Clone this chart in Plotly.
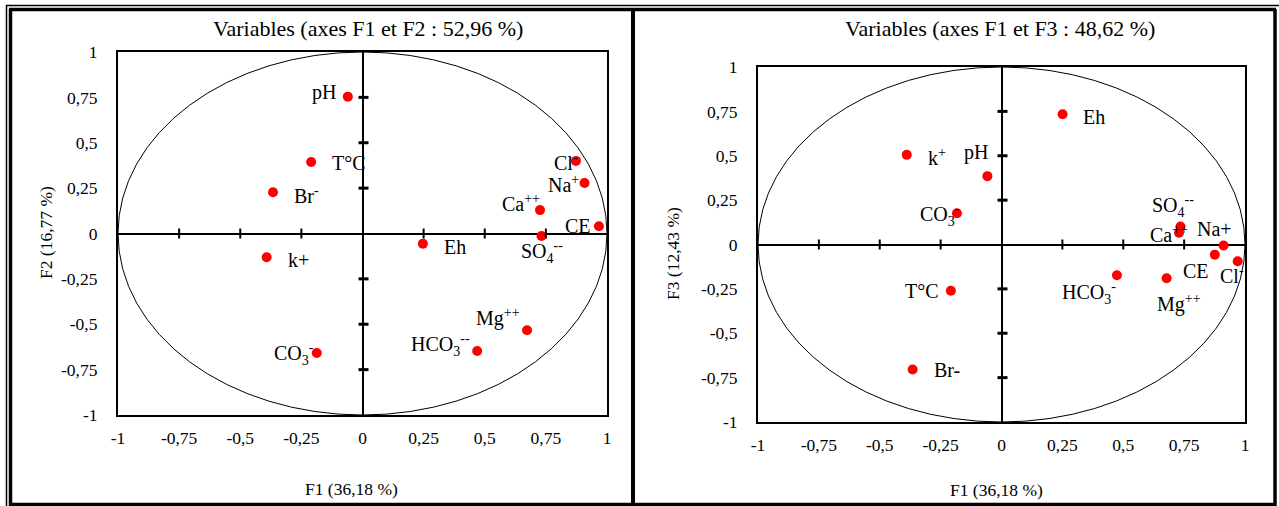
import plotly.graph_objects as go

# ---------------- data ----------------
labels_f12 = ["pH", "T°C", "Br<sup>-</sup>", "Cl<sup>-</sup>", "Na<sup>+</sup>", "Ca<sup>++</sup>", "CE",
              "SO<sub>4</sub><sup>--</sup>", "Eh", "k+", "CO<sub>3</sub><sup>-</sup>",
              "HCO<sub>3</sub><sup>--</sup>", "Mg<sup>++</sup>"]
f1_left = [-0.06, -0.21, -0.366, 0.873, 0.908, 0.726, 0.967, 0.732, 0.247, -0.392, -0.187, 0.469, 0.673]
f2_vals = [0.754, 0.394, 0.227, 0.40, 0.278, 0.129, 0.04, -0.014, -0.056, -0.131, -0.658, -0.647, -0.533]

labels_f13 = ["Eh", "k<sup>+</sup>", "pH", "CO<sub>3</sub><sup>-</sup>", "SO<sub>4</sub><sup>--</sup>",
              "Ca<sup>++</sup>", "Na+", "CE", "Cl<sup>-</sup>", "HCO<sub>3</sub><sup>-</sup>",
              "Mg<sup>++</sup>", "T°C", "Br-"]
f1_right = [0.251, -0.389, -0.058, -0.183, 0.735, 0.729, 0.912, 0.876, 0.970, 0.474, 0.678, -0.208, -0.365]
f3_vals = [0.734, 0.505, 0.385, 0.176, 0.101, 0.066, -0.006, -0.058, -0.094, -0.173, -0.19, -0.261, -0.704]

tick_vals = [-1, -0.75, -0.5, -0.25, 0, 0.25, 0.5, 0.75, 1]
tick_text = ["-1", "-0,75", "-0,5", "-0,25", "0", "0,25", "0,5", "0,75", "1"]

title_left = "Variables (axes F1 et F2 : 52,96 %)"
title_right = "Variables (axes F1 et F3 : 48,62 %)"
xtitle = "F1 (36,18 %)"
ytitle_left = "F2 (16,77 %)"
ytitle_right = "F3 (12,43 %)"

# label placement (style): (xanchor, xshift, yshift)
place_left = [("right", -10, 4), ("left", 19, -1), ("left", 19, -3), ("right", 4, -1),
              ("right", -4, -1), ("right", 2, 7), ("right", -6, 0), ("center", 1, -16),
              ("left", 19, -3), ("left", 19, -3), ("right", -1, -1), ("right", -5, 6),
              ("right", -5, 13)]
place_right = [("left", 18, -3), ("left", 19, -2), ("right", 3, 24), ("right", 5, -2),
               ("center", -7, 21), ("right", 11, -1), ("center", -9, 17), ("right", -4, -16),
               ("center", -6, -14), ("right", 1, -18), ("center", 12, -25), ("right", -10, 0),
               ("left", 19, -1)]

# ---------------- layout helpers ----------------
W, H = 1279, 506
FONT = "Liberation Serif, Times New Roman, serif"


def px(x):
    return x / W


def py(y):
    return 1 - y / H


fig = go.Figure()

fig.add_trace(go.Scatter(x=f1_left, y=f2_vals, mode="markers", xaxis="x", yaxis="y",
                         marker=dict(color="#FF0000", size=10), cliponaxis=False,
                         showlegend=False, hoverinfo="skip"))
fig.add_trace(go.Scatter(x=f1_right, y=f3_vals, mode="markers", xaxis="x2", yaxis="y2",
                         marker=dict(color="#FF0000", size=10), cliponaxis=False,
                         showlegend=False, hoverinfo="skip"))

axis_common = dict(range=[-1, 1], tickvals=tick_vals, ticktext=tick_text, showgrid=False,
                   zeroline=True, zerolinecolor="black", zerolinewidth=2,
                   showline=True, mirror=True, linecolor="black", linewidth=2,
                   ticks="", tickfont=dict(family=FONT, size=17.5, color="black"),
                   automargin=False, fixedrange=True)

fig.update_layout(
    template="none",
    width=W, height=H, autosize=False,
    margin=dict(l=0, r=0, t=0, b=0, pad=0, autoexpand=False),
    paper_bgcolor="white", plot_bgcolor="white",
    showlegend=False,
    font=dict(family=FONT, color="black"),
    xaxis=dict(domain=[px(118), px(607)], anchor="y", ticklabelstandoff=6, **axis_common),
    yaxis=dict(domain=[py(415), py(52)], anchor="x", ticklabelstandoff=15, **axis_common),
    xaxis2=dict(domain=[px(758), px(1245)], anchor="y2", ticklabelstandoff=6, **axis_common),
    yaxis2=dict(domain=[py(422), py(67)], anchor="x2", ticklabelstandoff=15, **axis_common),
)

shapes = []
for xr, yr in (("x", "y"), ("x2", "y2")):
    shapes.append(dict(type="circle", xref=xr, yref=yr, x0=-1, y0=-1, x1=1, y1=1,
                       line=dict(color="black", width=1)))
    for t in tick_vals:
        if t in (-1, 0, 1):
            continue
        shapes.append(dict(type="line", xref=xr, yref=yr, x0=t, x1=t,
                           ysizemode="pixel", yanchor=0, y0=-5, y1=5,
                           line=dict(color="black", width=2)))
        shapes.append(dict(type="line", xref=xr, yref=yr, y0=t, y1=t,
                           xsizemode="pixel", xanchor=0, x0=-4, x1=6,
                           line=dict(color="black", width=3)))


def pline(x0, y0, x1, y1, w):
    return dict(type="line", xref="paper", yref="paper", x0=px(x0), y0=py(y0), x1=px(x1), y1=py(y1),
                line=dict(color="black", width=w))


shapes += [
    pline(6, 5.5, 1279, 5.5, 1.5),
    pline(6.5, 5, 6.5, 506, 1.5),
    pline(9, 9.5, 1276, 9.5, 3.5),
    pline(10.5, 9, 10.5, 506, 3.5),
    pline(1275, 9, 1275, 506, 3.5),
    pline(9, 504.5, 1276, 504.5, 3.5),
    pline(633, 9, 633, 506, 4),
]
fig.update_layout(shapes=shapes)

ann = []
lab_font = dict(family=FONT, size=20, color="black")
for xs, ys, labs, plc, xr, yr in ((f1_left, f2_vals, labels_f12, place_left, "x", "y"),
                                  (f1_right, f3_vals, labels_f13, place_right, "x2", "y2")):
    for xv, yv, lab, (xa, dx, dy) in zip(xs, ys, labs, plc):
        ann.append(dict(x=xv, y=yv, xref=xr, yref=yr, text=lab, showarrow=False,
                        xanchor=xa, yanchor="middle", xshift=dx, yshift=dy, font=lab_font))

title_font = dict(family=FONT, size=22, color="black")
axt_font = dict(family=FONT, size=17.5, color="black")
ann += [
    dict(x=px(368), y=py(28), xref="paper", yref="paper", text=title_left, showarrow=False,
         xanchor="center", yanchor="middle", font=title_font),
    dict(x=px(1000), y=py(28), xref="paper", yref="paper", text=title_right, showarrow=False,
         xanchor="center", yanchor="middle", font=title_font),
    dict(x=px(352), y=py(489), xref="paper", yref="paper", text=xtitle, showarrow=False,
         xanchor="center", yanchor="middle", font=axt_font),
    dict(x=px(996), y=py(490), xref="paper", yref="paper", text=xtitle, showarrow=False,
         xanchor="center", yanchor="middle", font=axt_font),
    dict(x=px(46), y=py(233), xref="paper", yref="paper", text=ytitle_left, showarrow=False,
         textangle=-90, xanchor="center", yanchor="middle", font=axt_font),
    dict(x=px(673), y=py(254), xref="paper", yref="paper", text=ytitle_right, showarrow=False,
         textangle=-90, xanchor="center", yanchor="middle", font=axt_font),
]
fig.update_layout(annotations=ann)

post = ("document.documentElement.style.margin='0';document.documentElement.style.padding='0';"
        "document.documentElement.style.overflow='hidden';"
        "document.body.style.margin='0';document.body.style.padding='0';"
        "document.body.style.overflow='hidden';")
fig.write_html("out.html", config={"responsive": False, "displayModeBar": False}, post_script=post)
